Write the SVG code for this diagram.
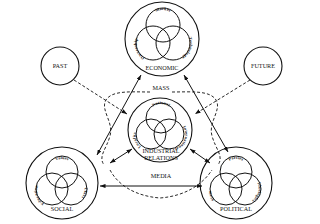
<svg xmlns="http://www.w3.org/2000/svg" width="320" height="224" viewBox="0 0 320 224">
<style>
.c{fill:none;stroke:#111;stroke-width:1.1}
.v{fill:none;stroke:#111;stroke-width:1}
.t{font-family:"Liberation Serif",serif;font-size:6.2px;fill:#111;text-anchor:middle}
.s{font-family:"Liberation Serif",serif;font-size:4.2px;font-weight:bold;fill:#111;text-anchor:middle;letter-spacing:0.2px}
.l{fill:none;stroke:#111;stroke-width:1}
.d{fill:none;stroke:#111;stroke-width:0.9;stroke-dasharray:3 2}
</style>
<defs>
<marker id="a" viewBox="0 0 8 6" refX="8" refY="3" markerWidth="5.5" markerHeight="4.2" orient="auto-start-reverse" markerUnits="userSpaceOnUse"><path d="M0,0L8,3L0,6z" fill="#111"/></marker>
<path id="e1" d="M149,24 A14,14 0 0 1 177,24"/>
<path id="e2" d="M145,58 A16,16 0 0 1 138,38"/>
<path id="e3" d="M188,36 A16,16 0 0 1 180,58"/>
<path id="i1" d="M148,117 A13,13 0 0 1 174,117"/>
<path id="i2" d="M143,148 A14,14 0 0 1 137,130"/>
<path id="i3" d="M183,127 A14,14 0 0 1 175,148"/>
<path id="s1" d="M49,172 A13,13 0 0 1 75,172"/>
<path id="s2" d="M44,203 A14,14 0 0 1 38,186"/>
<path id="s3" d="M83,182 A14,14 0 0 1 77,201"/>
<path id="p1" d="M223,172 A13,13 0 0 1 249,172"/>
<path id="p2" d="M218,203 A14,14 0 0 1 212,186"/>
<path id="p3" d="M257,182 A14,14 0 0 1 251,201"/>
</defs>
<rect width="320" height="224" fill="#fff"/>
<g id="connectors">
<line class="l" x1="141" y1="75" x2="97" y2="155" marker-start="url(#a)" marker-end="url(#a)"/>
<line class="l" x1="184" y1="75" x2="228" y2="152" marker-start="url(#a)" marker-end="url(#a)"/>
<line class="l" x1="100" y1="186" x2="202" y2="186" marker-start="url(#a)" marker-end="url(#a)"/>
<line class="l" x1="110" y1="163" x2="132" y2="149" marker-start="url(#a)" marker-end="url(#a)"/>
<line class="l" x1="190" y1="149" x2="210" y2="163" marker-start="url(#a)" marker-end="url(#a)"/>
<line class="d" x1="74" y1="80" x2="127" y2="114" marker-end="url(#a)"/>
<line class="d" x1="250" y1="80" x2="195" y2="114" marker-end="url(#a)"/>
<path class="d" d="M150,92 C132,92 112,90 106,100 C100,110 114,122 110,136 C106,150 98,156 104,165"/>
<path class="d" d="M172,92 C190,92 210,90 216,100 C222,110 208,122 212,136 C216,150 224,156 218,165"/>
<path class="d" d="M110,170 C118,185 135,196 160,198 C185,196 202,185 212,170"/>
</g>
<g id="past"><circle class="c" cx="60" cy="66" r="19"/><text class="t" x="60" y="68">PAST</text></g>
<g id="future"><circle class="c" cx="263" cy="66" r="19"/><text class="t" x="263" y="68">FUTURE</text></g>
<g id="economic">
<circle class="c" cx="162" cy="39" r="37"/>
<circle class="v" cx="163" cy="25" r="17"/><circle class="v" cx="153" cy="43" r="17"/><circle class="v" cx="173" cy="43" r="17"/>
<text class="s"><textPath href="#e1" startOffset="50%">Market</textPath></text>
<text class="s"><textPath href="#e2" startOffset="50%">Ownership</textPath></text>
<text class="s"><textPath href="#e3" startOffset="50%">Technology</textPath></text>
<text class="t" x="162" y="70">ECONOMIC</text>
</g>
<g id="industrial-relations">
<circle class="c" cx="160" cy="130" r="32"/>
<circle class="v" cx="161" cy="118" r="15"/><circle class="v" cx="151" cy="134" r="15"/><circle class="v" cx="169" cy="134" r="15"/>
<text class="s"><textPath href="#i1" startOffset="50%">National</textPath></text>
<text class="s"><textPath href="#i2" startOffset="50%">Locality</textPath></text>
<text class="s"><textPath href="#i3" startOffset="50%">International</textPath></text>
<text class="t" x="161" y="153">INDUSTRIAL</text>
<text class="t" x="161" y="159.5">RELATIONS</text>
</g>
<g id="mass"><text class="t" x="161" y="90">MASS</text></g>
<g id="media"><text class="t" x="161" y="178">MEDIA</text></g>
<g id="social">
<circle class="c" cx="62" cy="183" r="36"/>
<circle class="v" cx="62" cy="172" r="16"/><circle class="v" cx="52" cy="189" r="16"/><circle class="v" cx="71" cy="189" r="16"/>
<text class="s"><textPath href="#s1" startOffset="50%">Values</textPath></text>
<text class="s"><textPath href="#s2" startOffset="50%">Education</textPath></text>
<text class="s"><textPath href="#s3" startOffset="50%">Class</textPath></text>
<text class="t" x="62" y="211">SOCIAL</text>
</g>
<g id="political">
<circle class="c" cx="236" cy="183" r="36"/>
<circle class="v" cx="236" cy="172" r="16"/><circle class="v" cx="226" cy="189" r="16"/><circle class="v" cx="245" cy="189" r="16"/>
<text class="s"><textPath href="#p1" startOffset="50%">Parties</textPath></text>
<text class="s"><textPath href="#p2" startOffset="50%">State</textPath></text>
<text class="s"><textPath href="#p3" startOffset="50%">Ideologies</textPath></text>
<text class="t" x="236" y="211">POLITICAL</text>
</g>
</svg>
